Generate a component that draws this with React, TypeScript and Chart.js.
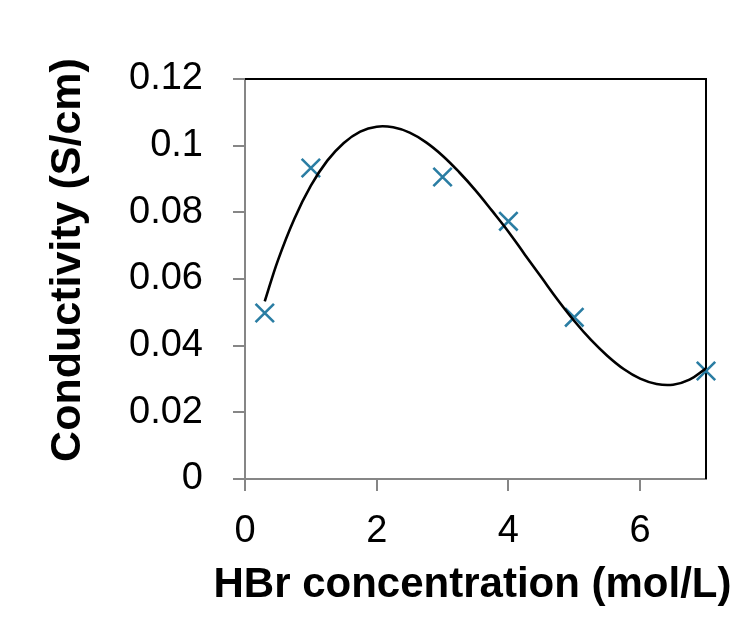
import React, { useEffect, useRef } from "react";
import { Chart, registerables } from "chart.js";

Chart.register(...registerables);

// Measured data (HBr concentration in mol/L, conductivity in S/cm)
const concentration = [0.3, 1, 3, 4, 5, 7];
const conductivity = [0.0498, 0.0933, 0.0906, 0.0773, 0.0485, 0.0324];

// Trendline
const trendX = [0.3, 0.5, 0.75, 1, 1.25, 1.5, 1.75, 2, 2.25, 2.5, 2.75, 3, 3.25, 3.5, 3.75, 4, 4.25, 4.5, 4.75, 5, 5.25, 5.5, 5.75, 6, 6.25, 6.5, 6.75, 7];
const trendY = [0.0533, 0.0656, 0.0781, 0.0880, 0.0955, 0.1008, 0.1042, 0.1057, 0.1055, 0.1039, 0.1010, 0.0970, 0.0921, 0.0866, 0.0805, 0.0742, 0.0673, 0.0605, 0.0537, 0.0474, 0.0418, 0.0370, 0.0330, 0.0301, 0.0285, 0.0283, 0.0298, 0.0332];

const xTickValues = [0, 2, 4, 6];
const xTickLabels = ["0", "2", "4", "6"];
const yTickValues = [0, 0.02, 0.04, 0.06, 0.08, 0.1, 0.12];
const yTickLabels = ["0", "0.02", "0.04", "0.06", "0.08", "0.1", "0.12"];

const xTitle = "HBr concentration (mol/L)";
const yTitle = "Conductivity (S/cm)";

const FONT = "'Liberation Sans', Arial, Helvetica, sans-serif";
const AXIS_GRAY = "#868686";

const frameBorder = {
  id: "frameBorder",
  beforeDatasetsDraw(chart: any) {
    const { ctx, chartArea } = chart;
    ctx.save();
    ctx.strokeStyle = "#000";
    ctx.lineWidth = 2;
    ctx.beginPath();
    ctx.moveTo(chartArea.left, chartArea.top);
    ctx.lineTo(chartArea.right, chartArea.top);
    ctx.lineTo(chartArea.right, chartArea.bottom);
    ctx.stroke();
    ctx.restore();
  },
};

// Axis titles drawn without Chart.js's max-width squeezing
const axisTitles = {
  id: "axisTitles",
  afterDraw(chart: any) {
    const { ctx, chartArea } = chart;
    ctx.save();
    ctx.fillStyle = "#000";
    ctx.textAlign = "center";
    ctx.textBaseline = "middle";
    ctx.font = `bold 42px ${FONT}`;
    ctx.fillText(xTitle, (chartArea.left + chartArea.right) / 2 - 3, chart.height - 32);
    ctx.translate(68, (chartArea.top + chartArea.bottom) / 2 - 19);
    ctx.rotate(-Math.PI / 2);
    ctx.font = `bold 43px ${FONT}`;
    ctx.fillText(yTitle, 0, 0);
    ctx.restore();
  },
};

export default function App() {
  const ref = useRef<HTMLCanvasElement | null>(null);

  useEffect(() => {
    if (!ref.current) return;
    const chart = new Chart(ref.current, {
      type: "scatter",
      data: {
        datasets: [
          {
            label: "Trend",
            data: trendX.map((x, i) => ({ x, y: trendY[i] })),
            showLine: true,
            borderColor: "#000",
            borderWidth: 2.6,
            pointRadius: 0,
            tension: 0.4,
            fill: false,
          },
          {
            label: "Conductivity",
            data: concentration.map((x, i) => ({ x, y: conductivity[i] })),
            showLine: false,
            pointStyle: "crossRot",
            pointRadius: 13,
            pointBorderWidth: 2.6,
            pointBorderColor: "#2a7da3",
            pointBackgroundColor: "#2a7da3",
            borderColor: "#2a7da3",
            clip: false as any,
          },
        ],
      },
      options: {
        responsive: false,
        animation: false,
        devicePixelRatio: 1,
        layout: { padding: { top: 79, right: 29, left: 0, bottom: 0 } },
        plugins: {
          legend: { display: false },
          tooltip: { enabled: false },
        },
        scales: {
          x: {
            type: "linear",
            position: "bottom",
            min: 0,
            max: 7,
            afterFit: (s: any) => {
              s.height = 138;
            },
            afterBuildTicks: (s: any) => {
              s.ticks = xTickValues.map((v) => ({ value: v }));
            },
            ticks: {
              stepSize: 2,
              includeBounds: false,
              autoSkip: false,
              maxRotation: 0,
              padding: 18,
              color: "#000",
              font: { family: FONT, size: 38 },
              callback: (v: any) => {
                const i = xTickValues.findIndex((t) => Math.abs(t - v) < 1e-9);
                return i >= 0 ? xTickLabels[i] : "";
              },
            },
            grid: {
              drawOnChartArea: false,
              drawTicks: true,
              tickLength: 12,
              color: AXIS_GRAY,
              lineWidth: 2,
            },
            border: { color: AXIS_GRAY, width: 2 },
            title: { display: false },
          },
          y: {
            type: "linear",
            min: 0,
            max: 0.12,
            afterFit: (s: any) => {
              s.width = 245;
            },
            afterBuildTicks: (s: any) => {
              s.ticks = yTickValues.map((v) => ({ value: v }));
            },
            ticks: {
              stepSize: 0.02,
              autoSkip: false,
              padding: 30,
              color: "#000",
              font: { family: FONT, size: 38 },
              callback: (v: any) => {
                const i = yTickValues.findIndex((t) => Math.abs(t - v) < 1e-9);
                return i >= 0 ? yTickLabels[i] : "";
              },
            },
            grid: {
              drawOnChartArea: false,
              drawTicks: true,
              tickLength: 12,
              color: AXIS_GRAY,
              lineWidth: 2,
            },
            border: { color: AXIS_GRAY, width: 2 },
            title: { display: false },
          },
        },
      } as any,
      plugins: [frameBorder, axisTitles],
    });
    return () => chart.destroy();
  }, []);

  return (
    <div style={{ position: "absolute", left: 0, top: 0, width: 735, height: 617, background: "#fff" }}>
      <canvas ref={ref} width={735} height={617} style={{ display: "block" }} />
    </div>
  );
}
